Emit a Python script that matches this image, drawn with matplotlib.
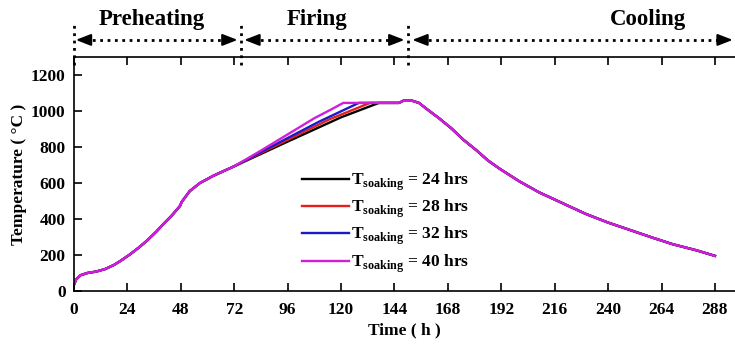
import matplotlib.pyplot as plt
import numpy as np

plt.rcParams['font.family'] = 'Liberation Serif'
plt.rcParams['font.weight'] = 'bold'
plt.rcParams['mathtext.fontset'] = 'custom'
plt.rcParams['mathtext.rm'] = 'Liberation Serif:bold'
plt.rcParams['mathtext.bf'] = 'Liberation Serif:bold'

# Precalentamiento (comun a todas las curvas)
t_pre = [0, 1, 3, 6, 10, 14, 18, 21, 25, 29, 33, 37, 40, 44, 47.6, 48.4, 52, 56.6, 62.6, 67]
T_pre = [35, 65, 88, 100, 108, 122, 145, 168, 202, 240, 282, 330, 370, 420, 472, 495, 555, 600, 640, 665]

# Coccion (una por tiempo de mantenimiento)
t_fire_24 = [72, 96, 120, 137, 146]
T_fire_24 = [693, 830, 965, 1045, 1045]
t_fire_28 = [72, 96, 115, 133, 146]
T_fire_28 = [693, 840, 955, 1045, 1045]
t_fire_32 = [72, 96, 110, 128, 146]
T_fire_32 = [693, 850, 940, 1045, 1045]
t_fire_40 = [72, 84, 96, 108, 115, 121, 146]
T_fire_40 = [693, 780, 870, 960, 1005, 1045, 1045]

# Enfriamiento (comun)
t_cool = [148, 152, 155, 158.4, 164, 169.7, 175, 181, 186, 191.4, 200, 209, 220, 230, 240, 251, 260, 269, 280, 288]
T_cool = [1057, 1057, 1045, 1012, 960, 902, 840, 780, 725, 678, 610, 548, 485, 428, 380, 334, 296, 260, 225, 195]

labels = ['24', '28', '32', '40']
colors = ['black', '#e3201b', '#1a1ac8', '#d21ed8']
fires = [(t_fire_24, T_fire_24), (t_fire_28, T_fire_28), (t_fire_32, T_fire_32), (t_fire_40, T_fire_40)]

fig = plt.figure(figsize=(7.35, 3.48), dpi=100)
ax = fig.add_axes([74/735, 1 - 291/348, (735 - 74)/735, (291 - 57)/348])

for lab, col, (tf, Tf) in zip(labels, colors, fires):
    t = t_pre + tf + t_cool
    T = T_pre + Tf + T_cool
    ax.plot(t, T, color=col, lw=1.7,
            label=r'$\mathbf{T}_{\mathbf{soaking}}$ = ' + lab + ' hrs')

ax.set_xlim(0, 297)
ax.set_ylim(0, 1300)
ax.set_xticks(np.arange(0, 289, 24))
ax.set_yticks(np.arange(0, 1201, 200))
ax.tick_params(direction='in', top=True, length=6, width=1.2, labelsize=12.5)
ax.tick_params(axis='x', pad=8)
ax.tick_params(axis='y', pad=6)
ax.spines['right'].set_visible(False)
for s in ['left', 'bottom', 'top']:
    ax.spines[s].set_linewidth(1.2)
ax.set_xlabel('Time ( h )', fontsize=12.5, fontweight='bold', labelpad=3)
ax.set_ylabel('Temperature ( °C )', fontsize=12.5, fontweight='bold', labelpad=3)

ax.legend(loc='upper left', bbox_to_anchor=(0.335, 0.545), frameon=False,
          fontsize=12.5, handlelength=2.7, handletextpad=0.1, labelspacing=0.3,
          borderaxespad=0)

# Fases del proceso
ya = 1.073
for xb in [0, 75, 150]:
    ax.plot([xb, xb], [0.966, 1.14], transform=ax.get_xaxis_transform(),
            color='black', ls=':', lw=2, clip_on=False)
phases = [('Preheating', 0.8, 73.5, 35), ('Firing', 76.5, 148.5, 109), ('Cooling', 152, 296, 258)]
for name, x0, x1, xc in phases:
    ax.plot([x0 + 4, x1 - 4], [ya, ya], transform=ax.get_xaxis_transform(),
            color='black', ls=':', lw=2, clip_on=False)
    for a, b in [(x0 + 5, x0), (x1 - 5, x1)]:
        ax.annotate('', xy=(b, ya), xytext=(a, ya), xycoords=('data', 'axes fraction'),
                    textcoords=('data', 'axes fraction'),
                    arrowprops=dict(arrowstyle='-|>,head_length=0.9,head_width=0.35',
                                    color='black', lw=1.5, shrinkA=0, shrinkB=0))
    ax.text(xc, 1.16, name, transform=ax.get_xaxis_transform(), ha='center', va='center',
            fontsize=16.5, fontweight='bold')

plt.savefig('out.png', dpi=100)
